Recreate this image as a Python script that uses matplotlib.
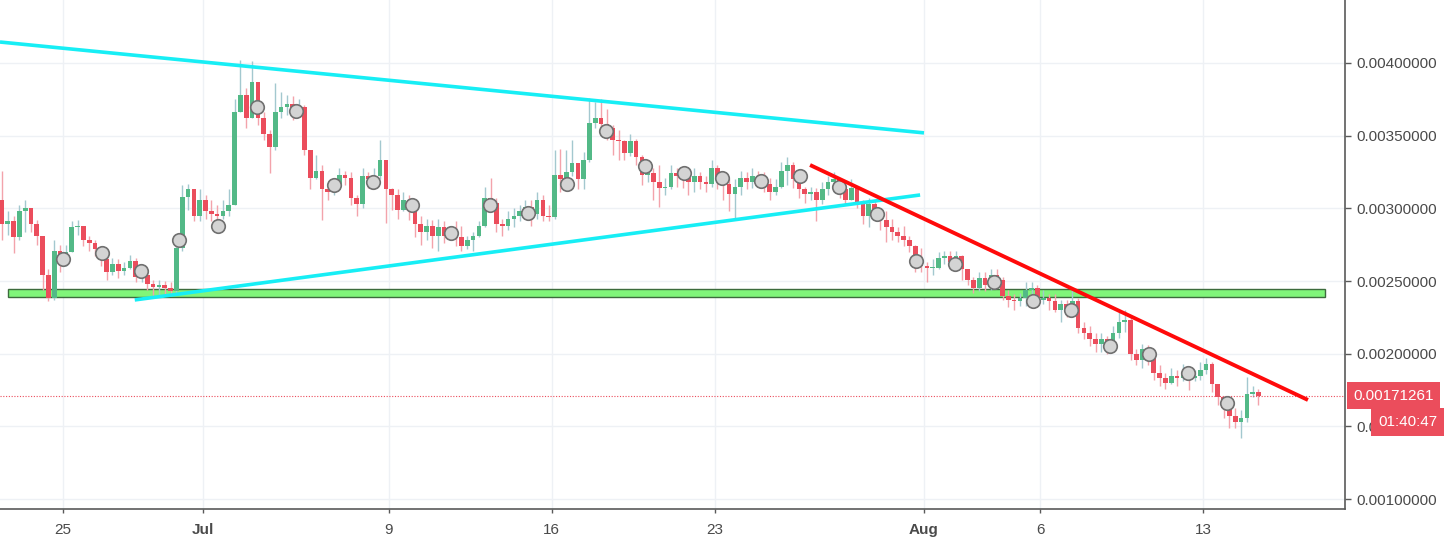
import numpy as np
import pandas as pd
import matplotlib
matplotlib.use('Agg')
import matplotlib.pyplot as plt
import matplotlib.dates as mdates
import matplotlib.transforms as mtransforms
from matplotlib.patches import Rectangle

plt.rcParams['font.family'] = ['Liberation Sans', 'DejaVu Sans']

# 6h candles starting 2018-06-22 06:00, prices in units of 1e-5 BTC
SCALE = 1e-5
first_open = 306
close_k = [289, 291, 280, 298, 300, 289, 281, 254, 238, 271,
           262, 270, 287, 288, 278, 276, 272, 265, 256, 262,
           257, 259, 264, 253, 254, 248, 246, 247, 245, 243,
           273, 308, 313, 295, 306, 298, 296, 295, 298, 302,
           366, 378, 362, 387, 362, 351, 342, 366, 370, 372,
           368, 370, 340, 321, 326, 313, 311, 316, 323, 321,
           307, 303, 322, 320, 322, 333, 313, 309, 299, 306,
           298, 289, 284, 288, 281, 287, 281, 284, 280, 274,
           278, 281, 288, 307, 304, 289, 288, 293, 295, 298,
           301, 296, 306, 295, 294, 323, 320, 325, 331, 320,
           333, 359, 362, 358, 355, 347, 346, 338, 346, 335,
           323, 324, 318, 314, 315, 324, 322, 321, 318, 322,
           318, 317, 328, 320, 317, 310, 315, 321, 318, 322,
           321, 317, 311, 315, 326, 330, 320, 313, 310, 311,
           306, 313, 318, 320, 313, 306, 314, 304, 295, 303,
           298, 292, 287, 284, 281, 278, 274, 263, 260, 259,
           259, 266, 267, 263, 267, 258, 251, 245, 252, 247,
           254, 251, 240, 237, 236, 238, 244, 245, 237, 238,
           236, 230, 234, 229, 236, 218, 214, 210, 207, 210,
           205, 214, 222, 223, 200, 196, 203, 197, 187, 183,
           180, 185, 183, 187, 183, 185, 189, 193, 179, 170,
           163, 157, 153, 156, 172, 174, 171]
high_k = [326, 298, 295, 302, 306, 299, 292, 278, 258, 278,
          275, 275, 291, 292, 287, 281, 278, 274, 266, 266,
          265, 263, 268, 266, 259, 258, 251, 251, 250, 249,
          278, 316, 317, 309, 313, 309, 306, 302, 306, 313,
          375, 402, 383, 401, 383, 366, 354, 386, 380, 378,
          377, 375, 371, 337, 337, 330, 315, 321, 328, 326,
          325, 309, 328, 325, 328, 347, 333, 314, 313, 311,
          309, 300, 295, 293, 292, 293, 291, 288, 291, 288,
          281, 284, 291, 315, 321, 307, 293, 298, 300, 302,
          306, 306, 311, 309, 302, 340, 341, 340, 347, 330,
          339, 376, 373, 375, 368, 357, 354, 347, 351, 348,
          337, 328, 328, 330, 321, 330, 328, 326, 325, 328,
          325, 322, 333, 330, 323, 320, 320, 326, 325, 328,
          326, 325, 321, 320, 332, 335, 332, 322, 315, 315,
          314, 318, 322, 325, 321, 316, 320, 315, 306, 307,
          306, 300, 298, 293, 287, 288, 281, 275, 273, 263,
          265, 270, 271, 271, 271, 268, 258, 253, 256, 256,
          258, 258, 253, 244, 241, 242, 249, 249, 247, 244,
          241, 241, 237, 237, 244, 238, 222, 219, 214, 214,
          212, 219, 230, 230, 225, 203, 207, 206, 198, 192,
          187, 190, 189, 193, 189, 189, 194, 197, 194, 179,
          171, 165, 163, 161, 184, 178, 176]
low_k = [278, 282, 269, 278, 284, 284, 275, 244, 236, 237,
         256, 260, 270, 282, 274, 271, 267, 260, 251, 254,
         252, 254, 258, 249, 249, 244, 240, 240, 241, 240,
         241, 271, 299, 291, 291, 293, 291, 292, 293, 295,
         302, 366, 355, 362, 357, 347, 324, 340, 362, 364,
         361, 364, 337, 313, 320, 292, 306, 309, 313, 316,
         302, 295, 300, 314, 316, 320, 290, 299, 293, 298,
         292, 280, 275, 278, 273, 271, 276, 278, 274, 271,
         272, 271, 280, 287, 298, 284, 281, 285, 287, 291,
         295, 288, 293, 291, 291, 293, 311, 314, 322, 313,
         313, 332, 355, 351, 347, 337, 333, 333, 336, 330,
         316, 318, 306, 301, 309, 313, 315, 314, 309, 311,
         313, 311, 315, 313, 306, 298, 293, 309, 313, 314,
         315, 311, 306, 309, 314, 316, 314, 307, 304, 306,
         291, 303, 309, 311, 307, 302, 306, 300, 289, 287,
         292, 285, 277, 278, 277, 274, 270, 256, 256, 249,
         254, 258, 262, 258, 260, 251, 247, 242, 243, 243,
         244, 245, 237, 232, 230, 233, 233, 237, 233, 234,
         230, 229, 222, 225, 227, 214, 210, 205, 201, 201,
         200, 204, 211, 215, 196, 192, 190, 192, 182, 178,
         176, 179, 178, 181, 175, 181, 182, 186, 174, 165,
         156, 149, 149, 142, 153, 170, 165]

# grey indicator dots, one every 40h from Jun 25
dot_k = [265, 269, 257, 278, 288, 370, 367, 316, 318, 302, 283, 302, 297,
         317, 353, 329, 324, 321, 319, 322, 315, 296, 264, 262, 249, 236,
         230, 205, 200, 187, 166]

last_price = 0.00171261
countdown = '01:40:47'

# drawn lines (time, price 1e-5)
upper_t = ['2018-06-22 07:00', '2018-08-01 00:00']
upper_p = [414.4, 351.9]
lower_t = ['2018-06-28 02:00', '2018-07-31 20:00']
lower_p = [237.0, 309.2]
down_t = ['2018-07-27 02:30', '2018-08-17 12:00']
down_p = [329.8, 168.2]
zone_t = ['2018-06-22 15:00', '2018-08-18 05:30']
zone_p = [239.0, 244.5]

tick_dates = ['2018-06-25', '2018-07-01', '2018-07-09', '2018-07-16',
              '2018-07-23', '2018-08-01', '2018-08-06', '2018-08-13']
tick_labels = ['25', 'Jul', '9', '16', '23', 'Aug', '6', '13']

UP, DOWN = '#53b987', '#eb4d5c'
UP_WICK, DOWN_WICK = '#a3c8cf', '#f3a3ab'

times = pd.date_range('2018-06-22 06:00', periods=len(close_k), freq='6h')
centers = mdates.date2num(times + pd.Timedelta(hours=3))
close = np.array(close_k) * SCALE
opens = np.array([first_open] + close_k[:-1]) * SCALE
high = np.maximum(np.array(high_k) * SCALE, np.maximum(opens, close))
low = np.minimum(np.array(low_k) * SCALE, np.minimum(opens, close))
up = close >= opens

fig = plt.figure(figsize=(14.46, 5.42), dpi=100)
ax = fig.add_axes([0, 33 / 542, 1345 / 1446, 509 / 542])

# grid
for d in tick_dates:
    ax.axvline(mdates.date2num(pd.Timestamp(d)), color='#eef1f5', lw=1, zorder=0)
for p in np.arange(0.001, 0.00401, 0.0005):
    ax.axhline(p, color='#eef1f5', lw=1, zorder=0)

# support zone
zx = mdates.date2num(pd.to_datetime(zone_t))
ax.add_patch(Rectangle((zx[0], zone_p[0] * SCALE), zx[1] - zx[0],
                       (zone_p[1] - zone_p[0]) * SCALE,
                       facecolor='#80f57a', edgecolor='#3d6b3d', lw=1, zorder=1))

# candles
ax.vlines(centers[up], low[up], high[up], color=UP_WICK, lw=1, zorder=2)
ax.vlines(centers[~up], low[~up], high[~up], color=DOWN_WICK, lw=1, zorder=2)
body = np.maximum(np.abs(close - opens), 0.000004)
ax.bar(centers, body, bottom=np.minimum(opens, close), width=0.2,
       color=np.where(up, UP, DOWN), zorder=3)

# indicator dots
dot_times = pd.date_range('2018-06-25 00:00', periods=len(dot_k), freq='40h')
ax.scatter(mdates.date2num(dot_times), np.array(dot_k) * SCALE, s=95,
           facecolor='#d4d4d4', edgecolor='#707070', lw=1.2, zorder=4)

# trend lines
ax.plot(mdates.date2num(pd.to_datetime(upper_t)), np.array(upper_p) * SCALE,
        color='#17eef5', lw=2.6, zorder=5, solid_capstyle='butt')
ax.plot(mdates.date2num(pd.to_datetime(lower_t)), np.array(lower_p) * SCALE,
        color='#17eef5', lw=2.6, zorder=5, solid_capstyle='butt')
ax.plot(mdates.date2num(pd.to_datetime(down_t)), np.array(down_p) * SCALE,
        color='#ff0a0a', lw=2.8, zorder=5, solid_capstyle='butt')

# last price line
ax.axhline(last_price, color=DOWN, lw=0.8, ls=(0, (1, 1.5)), zorder=2)

# axes
x0 = mdates.date2num(pd.Timestamp('2018-06-25')) - 63 / 23.27
x1 = mdates.date2num(pd.Timestamp('2018-06-25')) + (1345 - 63) / 23.27
ax.set_xlim(x0, x1)
ax.set_ylim(0.000932, 0.004433)

for s in ['top', 'left']:
    ax.spines[s].set_visible(False)
for s in ['right', 'bottom']:
    ax.spines[s].set_color('#5a5a5a')
    ax.spines[s].set_linewidth(1.2)

ax.yaxis.tick_right()
ax.set_yticks(np.arange(0.001, 0.00401, 0.0005))
ax.yaxis.set_major_formatter(plt.FuncFormatter(lambda v, _: f'{v:.8f}'))
ax.tick_params(axis='y', length=4, width=1, color='#5a5a5a', pad=4,
               labelsize=11, labelcolor='#4a4a4a')
ax.set_xticks(mdates.date2num(pd.to_datetime(tick_dates)))
ax.set_xticklabels(tick_labels)
ax.tick_params(axis='x', length=3, width=1, color='#5a5a5a', pad=7,
               labelsize=11, labelcolor='#4a4a4a')
for lbl in ax.get_xticklabels():
    if lbl.get_text() in ('Jul', 'Aug'):
        lbl.set_fontweight('bold')

# price / countdown labels
trans = mtransforms.blended_transform_factory(ax.transAxes, ax.transData)
ax.annotate(f'{last_price:.8f}', xy=(1, last_price), xycoords=trans,
            xytext=(6, 0), textcoords='offset points', ha='left', va='center',
            fontsize=11, color='white', annotation_clip=False, zorder=10,
            bbox=dict(boxstyle='square,pad=0.4', fc=DOWN, ec='none'))
ax.annotate(countdown, xy=(1, last_price), xycoords=trans,
            xytext=(24, -19), textcoords='offset points', ha='left', va='center',
            fontsize=11, color='white', annotation_clip=False, zorder=10,
            bbox=dict(boxstyle='square,pad=0.45', fc=DOWN, ec='none'))

plt.savefig('out.png', dpi=100, facecolor='white')
